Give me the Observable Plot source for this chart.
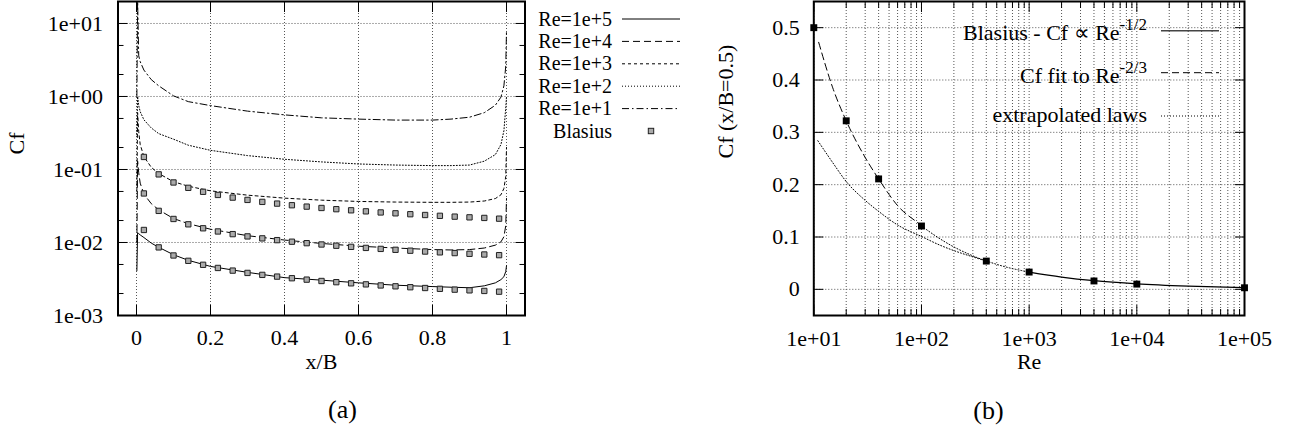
<!DOCTYPE html>
<html><head><meta charset="utf-8">
<script src="https://cdn.jsdelivr.net/npm/d3@7"></script>
<script src="https://cdn.jsdelivr.net/npm/@observablehq/plot@0.6"></script>
<style>
body{margin:0;background:#fff;}
#fig{position:relative;width:1304px;height:441px;overflow:hidden;background:#fff;}
#fig svg{position:absolute;top:0;overflow:visible;}
</style></head><body><div id="fig"></div>
<script>
// ---------- Panel (a) data ----------
const xGrid = [0.001, 0.003, 0.006, 0.01, 0.02, 0.04, 0.06, 0.1, 0.14, 0.2, 0.3, 0.4, 0.5, 0.6, 0.7, 0.8, 0.85, 0.9, 0.94, 0.97, 0.985, 0.993, 0.998, 1.0];
const cfRe1e5 = [0.0041, 0.0137, 0.0132, 0.0127, 0.0117, 0.0098, 0.0086, 0.0068, 0.0057, 0.0047, 0.0039, 0.0033, 0.00305, 0.0028, 0.0026, 0.00249, 0.00244, 0.0024, 0.00255, 0.0028, 0.0031, 0.0034, 0.0040, 0.0048];
const cfRe1e4 = [0.01, 0.13, 0.09, 0.065, 0.046, 0.034, 0.028, 0.0213, 0.0181, 0.0152, 0.0124, 0.0108, 0.0097, 0.0089, 0.0084, 0.0080, 0.0079, 0.0080, 0.0084, 0.0092, 0.0102, 0.0120, 0.017, 0.04];
const cfRe1e3 = [0.05, 0.6, 0.33, 0.22, 0.15, 0.107, 0.088, 0.068, 0.059, 0.051, 0.0445, 0.0405, 0.038, 0.0365, 0.0358, 0.0355, 0.0355, 0.0358, 0.037, 0.040, 0.045, 0.055, 0.08, 0.2];
const cfRe1e2 = [0.3, 1.0, 0.75, 0.62, 0.48, 0.37, 0.31, 0.26, 0.215, 0.183, 0.155, 0.138, 0.127, 0.119, 0.115, 0.113, 0.113, 0.115, 0.13, 0.16, 0.22, 0.34, 0.7, 1.0];
const cfRe1e1 = [1.0, 20, 3.6, 3.0, 2.3, 1.7, 1.4, 1.02, 0.85, 0.75, 0.63, 0.56, 0.51, 0.49, 0.475, 0.475, 0.49, 0.52, 0.6, 0.76, 0.98, 1.4, 2.6, 8.0];
const seriesLabels = ["Re=1e+5", "Re=1e+4", "Re=1e+3", "Re=1e+2", "Re=1e+1"];

const blasiusX = [0.02, 0.06, 0.10, 0.14, 0.18, 0.22, 0.26, 0.30, 0.34, 0.38, 0.42, 0.46, 0.50, 0.54, 0.58, 0.62, 0.66, 0.70, 0.74, 0.78, 0.82, 0.86, 0.90, 0.94, 0.98];
const blasius1e5 = [0.01485, 0.00857, 0.00664, 0.00561, 0.00495, 0.00448, 0.00412, 0.00383, 0.00360, 0.00341, 0.00324, 0.00310, 0.00297, 0.00286, 0.00276, 0.00267, 0.00258, 0.00251, 0.00244, 0.00238, 0.00232, 0.00226, 0.00221, 0.00217, 0.00212];
const blasius1e4 = [0.04696, 0.02711, 0.0210, 0.01774, 0.01565, 0.01416, 0.01302, 0.01212, 0.01139, 0.01077, 0.01025, 0.00979, 0.00939, 0.00903, 0.00872, 0.00843, 0.00817, 0.00794, 0.00772, 0.00752, 0.00733, 0.00716, 0.00700, 0.00685, 0.00671];
const blasius1e3 = [0.1485, 0.0857, 0.0664, 0.0561, 0.0495, 0.0448, 0.0412, 0.0383, 0.0360, 0.0341, 0.0324, 0.0310, 0.0297, 0.0286, 0.0276, 0.0267, 0.0258, 0.0251, 0.0244, 0.0238, 0.0232, 0.0226, 0.0221, 0.0217, 0.0212];

const xTicksA = [0, 0.2, 0.4, 0.6, 0.8, 1];
const yTicksA = [0.001, 0.01, 0.1, 1, 10];
const yMinorA = [0.002, 0.005, 0.02, 0.05, 0.2, 0.5, 2, 5];

// ---------- Panel (b) data ----------
const reMeasured = [10, 20, 40, 100, 400, 1000, 4000, 10000, 100000];
const cfMeasured = [0.500, 0.322, 0.211, 0.121, 0.054, 0.033, 0.016, 0.010, 0.003];
const reBlasius = [1000, 2000, 4000, 10000, 30000, 100000];
const cfBlasius = [0.033, 0.0235, 0.0165, 0.0105, 0.0061, 0.0031];
const reFit = [11.1, 15, 20, 30, 40, 60, 100, 105];
const cfFit = [0.472, 0.385, 0.322, 0.252, 0.211, 0.160, 0.121, 0.117];
const reExtUpper = [100, 150, 200, 300, 400];
const cfExtUpper = [0.121, 0.096, 0.081, 0.064, 0.054];
const reExtLower = [10.9, 15, 20, 30, 40, 60, 100, 150, 200, 300, 400, 600, 1000];
const cfExtLower = [0.284, 0.242, 0.206, 0.170, 0.149, 0.123, 0.101, 0.084, 0.074, 0.062, 0.054, 0.043, 0.033];
const legendB = ["Blasius - Cf \u221d Re", "Cf fit to Re", "extrapolated laws"];
const legendBsup = ["-1/2", "-2/3", ""];

const xTicksB = [10, 100, 1000, 10000, 100000];
const xMinorB = [20, 30, 40, 50, 60, 70, 80, 90, 200, 300, 400, 500, 600, 700, 800, 900, 2000, 3000, 4000, 5000, 6000, 7000, 8000, 9000, 20000, 30000, 40000, 50000, 60000, 70000, 80000, 90000];
const yTicksB = [0, 0.1, 0.2, 0.3, 0.4, 0.5];

// ---------- helpers ----------
const FONT = "'Liberation Serif', 'Times New Roman', serif";
const FS = 22;
const fmtE = v => { const e = Math.round(Math.log10(v)); return "1e" + (e < 0 ? "-" : "+") + String(Math.abs(e)).padStart(2, "0"); };
const gridStyle = {stroke: "#555", strokeOpacity: 1, strokeWidth: 1, strokeDasharray: "1,2"};
const tickStyle = {stroke: "black", strokeWidth: 1, fill: "none", label: null};
const dashes = [null, "7,4", "3,3", "1,2", "7,3,1.5,3"];

function inwardTicks(xT, xMinor, yT, yMinor) {
  const m = [];
  for (const [t, s] of [[xT, 10], [xMinor, 6]]) {
    if (!t) continue;
    m.push(Plot.axisX(t, {...tickStyle, anchor: "bottom", tickSize: s, dy: -s}));
    m.push(Plot.axisX(t, {...tickStyle, anchor: "top", tickSize: s, dy: s}));
  }
  for (const [t, s] of [[yT, 10], [yMinor, 6]]) {
    if (!t) continue;
    m.push(Plot.axisY(t, {...tickStyle, anchor: "left", tickSize: s, dx: s}));
    m.push(Plot.axisY(t, {...tickStyle, anchor: "right", tickSize: s, dx: -s}));
  }
  return m;
}

// ---------- Panel (a) ----------
const curvesA = [cfRe1e5, cfRe1e4, cfRe1e3, cfRe1e2, cfRe1e1];
const blasiusSets = [blasius1e5, blasius1e4, blasius1e3];

const plotA = Plot.plot({
  width: 700, height: 441,
  marginLeft: 117.5, marginRight: 175.5, marginTop: 1, marginBottom: 126,
  style: {fontFamily: FONT, fontSize: FS + "px", background: "transparent", color: "black"},
  x: {domain: [-0.05, 1.05], axis: null},
  y: {type: "log", domain: [0.001, 20], axis: null},
  marks: [
    Plot.gridX(xTicksA, gridStyle),
    Plot.gridY(yTicksA, gridStyle),
    ...curvesA.map((c, k) => Plot.line(c.map((v, i) => ({x: xGrid[i], y: v})), {
      x: "x", y: "y", stroke: "black", strokeWidth: 1, strokeDasharray: dashes[k], clip: true
    })),
    ...blasiusSets.map(b => Plot.dot(b.map((v, i) => ({x: blasiusX[i], y: v})), {
      x: "x", y: "y", symbol: "square", r: 3, fill: "#aaa", stroke: "#222", strokeWidth: 1
    })),
    Plot.frame({stroke: "black", strokeWidth: 2}),
    ...inwardTicks(xTicksA, null, yTicksA, yMinorA),
    Plot.axisY(yTicksA, {anchor: "left", tickSize: 0, tickPadding: 15, tickFormat: fmtE, label: null, fill: "black", fontSize: FS}),
    Plot.axisX(xTicksA, {anchor: "bottom", tickSize: 0, tickPadding: 14, tickFormat: d => String(d), label: null, fill: "black", fontSize: FS}),
    Plot.text(["Cf"], {frameAnchor: "left", dx: -101, dy: -4, rotate: -90, fill: "black", fontSize: FS}),
    Plot.text(["x/B"], {frameAnchor: "bottom", dy: 53, fill: "black", fontSize: FS}),
    Plot.text(["(a)"], {frameAnchor: "bottom", dx: 21, dy: 102, fontSize: 26, fill: "black"})
  ]
});
plotA.style.left = "0px";

// legend (a)
{
  const g = d3.select(plotA).append("g").attr("font-family", FONT).attr("font-size", 20);
  const rows = [...seriesLabels, "Blasius"];
  rows.forEach((lab, i) => {
    const cy = 19 + 22.4 * i;
    g.append("text").attr("x", 612).attr("y", cy + 6.5).attr("text-anchor", "end").attr("fill", "black").text(lab);
    if (i < 5) {
      g.append("line").attr("x1", 622).attr("x2", 680).attr("y1", cy).attr("y2", cy)
        .attr("stroke", "black").attr("stroke-width", 1).attr("stroke-dasharray", dashes[i]);
    } else {
      g.append("rect").attr("x", 651 - 2.7).attr("y", cy - 2.7).attr("width", 5.4).attr("height", 5.4)
        .attr("fill", "#aaa").attr("stroke", "#222").attr("stroke-width", 1);
    }
  });
}

// ---------- Panel (b) ----------
const toPts = (xs, ys) => xs.map((x, i) => ({x, y: ys[i]}));
const plotB = Plot.plot({
  width: 604, height: 441,
  marginLeft: 113.3, marginRight: 60, marginTop: 1, marginBottom: 126,
  style: {fontFamily: FONT, fontSize: FS + "px", background: "transparent", color: "black"},
  x: {type: "log", domain: [10, 100000], axis: null},
  y: {domain: [-0.05, 0.55], axis: null},
  marks: [
    Plot.gridX([...xTicksB, ...xMinorB], gridStyle),
    Plot.gridY(yTicksB, gridStyle),
    Plot.line(toPts(reExtLower, cfExtLower), {x: "x", y: "y", stroke: "black", strokeWidth: 1, strokeDasharray: "1,2", curve: "monotone-x"}),
    Plot.line(toPts(reExtUpper, cfExtUpper), {x: "x", y: "y", stroke: "black", strokeWidth: 1, strokeDasharray: "1,2", curve: "monotone-x"}),
    Plot.line(toPts(reFit, cfFit), {x: "x", y: "y", stroke: "black", strokeWidth: 1, strokeDasharray: "7,4", curve: "monotone-x"}),
    Plot.line(toPts(reBlasius, cfBlasius), {x: "x", y: "y", stroke: "black", strokeWidth: 1.2, curve: "monotone-x"}),
    Plot.dot(toPts(reMeasured, cfMeasured), {x: "x", y: "y", symbol: "square", r: 3.9, fill: "black"}),
    Plot.frame({stroke: "black", strokeWidth: 2}),
    ...inwardTicks(xTicksB, xMinorB, yTicksB, null),
    Plot.axisY(yTicksB, {anchor: "left", tickSize: 0, tickPadding: 14, tickFormat: d => String(d), label: null, fill: "black", fontSize: FS}),
    Plot.axisX(xTicksB, {anchor: "bottom", tickSize: 0, tickPadding: 15, tickFormat: fmtE, label: null, fill: "black", fontSize: FS}),
    Plot.text(["Cf (x/B=0.5)"], {frameAnchor: "left", dx: -88.3, rotate: -90, fill: "black", fontSize: FS}),
    Plot.text(["Re"], {frameAnchor: "bottom", dy: 53, fill: "black", fontSize: FS}),
    Plot.text(["(b)"], {frameAnchor: "bottom", dx: -40.7, dy: 103, fontSize: 26, fill: "black"})
  ]
});
plotB.style.left = "700px";

// legend (b)
{
  const g = d3.select(plotB).append("g").attr("font-family", FONT).attr("font-size", FS);
  const baselines = [39.5, 82.5, 122];
  const lineYs = [30.7, 72.7, 116];
  const legDash = [null, "7,4", "1,2"];
  legendB.forEach((lab, i) => {
    const t = g.append("text").attr("x", 447).attr("y", baselines[i]).attr("text-anchor", "end").attr("fill", "black");
    t.append("tspan").text(lab);
    if (legendBsup[i]) t.append("tspan").attr("dy", -10).attr("font-size", 17).text(legendBsup[i]);
    g.append("line").attr("x1", 461).attr("x2", 519).attr("y1", lineYs[i]).attr("y2", lineYs[i])
      .attr("stroke", i === 0 ? "#444" : "black").attr("stroke-width", i === 0 ? 1.5 : 1).attr("stroke-dasharray", legDash[i]);
  });
}

document.getElementById("fig").append(plotA, plotB);
</script>
</body></html>
